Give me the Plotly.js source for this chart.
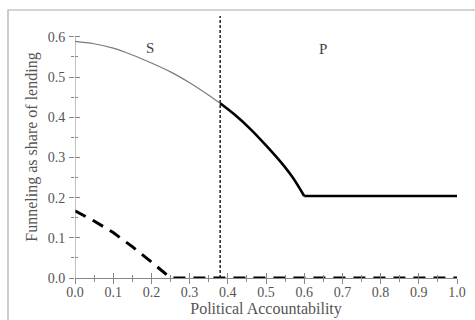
<!DOCTYPE html>
<html><head><meta charset="utf-8">
<script src="https://cdn.plot.ly/plotly-3.0.1.min.js"></script>
<style>html,body{margin:0;padding:0;background:#fff}</style>
</head><body>
<div id="chart" style="width:475px;height:320px"></div>
<script>
// Upper curve (S region, thin)
var sX = [0.0, 0.05, 0.1, 0.15, 0.2, 0.25, 0.3, 0.35, 0.38];
var sY = [0.589, 0.583, 0.572, 0.555, 0.535, 0.513, 0.486, 0.455, 0.435];
// Upper curve (P region, thick, falling part)
var pX = [0.38, 0.42, 0.46, 0.50, 0.54, 0.57, 0.6];
var pY = [0.435, 0.405, 0.370, 0.330, 0.287, 0.250, 0.204];
// Upper curve (P region, flat part)
var fX = [0.6, 0.7, 0.8, 0.9, 1.0];
var fY = [0.204, 0.204, 0.204, 0.204, 0.204];
// Lower dashed curve
var dX = [0.0, 0.05, 0.1, 0.15, 0.2, 0.25, 0.4, 0.6, 0.8, 1.0];
var dY = [0.167, 0.142, 0.113, 0.078, 0.040, 0.0, 0.0, 0.0, 0.0, 0.0];
// Threshold
var threshold = 0.38;
var xTicks = [0, 0.1, 0.2, 0.3, 0.4, 0.5, 0.6, 0.7, 0.8, 0.9, 1.0];
var xTickText = ["0.0","0.1","0.2","0.3","0.4","0.5","0.6","0.7","0.8","0.9","1.0"];
var yTicks = [0, 0.1, 0.2, 0.3, 0.4, 0.5, 0.6];
var yTickText = ["0.0","0.1","0.2","0.3","0.4","0.5","0.6"];
var xMinor = [0.05,0.15,0.25,0.35,0.45,0.55,0.65,0.75,0.85,0.95];
var yMinor = [0.05,0.15,0.25,0.35,0.45,0.55];

var font = "Liberation Serif, Times New Roman, serif";
var tc = "#888";

var traces = [
  {x: sX, y: sY, mode: "lines", line: {color: "#7a7a7a", width: 1.2, shape: "spline"}, hoverinfo: "skip"},
  {x: pX, y: pY, mode: "lines", line: {color: "#000", width: 2.6, shape: "spline"}, hoverinfo: "skip"},
  {x: fX, y: fY, mode: "lines", line: {color: "#000", width: 2.6}, hoverinfo: "skip"},
  {x: dX, y: dY, mode: "lines", line: {color: "#000", width: 3, dash: "12px,8px"}, hoverinfo: "skip"},
  {x: [threshold, threshold], y: [0, 0.652], mode: "lines", line: {color: "#222", width: 1.5, dash: "3px,2px"}, hoverinfo: "skip"},
  {x: [0], y: [0], xaxis: "x2", yaxis: "y", mode: "markers", marker: {opacity: 0}, hoverinfo: "skip"},
  {x: [0], y: [0], xaxis: "x", yaxis: "y2", mode: "markers", marker: {opacity: 0}, hoverinfo: "skip"}
];

var common = {showgrid: false, zeroline: false, tickcolor: tc, tickwidth: 1};

var layout = {
  width: 475, height: 320,
  margin: {l: 75, r: 18, t: 16, b: 42},
  paper_bgcolor: "#fff", plot_bgcolor: "#fff",
  showlegend: false,
  font: {family: font, color: "#555", size: 13},
  xaxis: Object.assign({}, common, {
    range: [0, 1], tickmode: "array", tickvals: xTicks, ticktext: xTickText,
    ticks: "outside", ticklen: 5, showline: true, linecolor: tc, linewidth: 1,
    ticklabelstandoff: -4,
    tickfont: {family: font, size: 14, color: "#555"},
    minor: {tickmode: "array", tickvals: xMinor, ticks: "outside", ticklen: 3, tickcolor: tc},
    title: {text: "Political Accountability", font: {family: font, size: 16, color: "#555"}, standoff: 2}
  }),
  xaxis2: Object.assign({}, common, {
    overlaying: "x", anchor: "y", side: "bottom", range: [0, 1], tickmode: "array", tickvals: xTicks,
    ticks: "inside", ticklen: 5, showticklabels: false, showline: false,
    minor: {tickmode: "array", tickvals: xMinor, ticks: "inside", ticklen: 3, tickcolor: tc}
  }),
  yaxis: Object.assign({}, common, {
    range: [0, 0.652], tickmode: "array", tickvals: yTicks, ticktext: yTickText,
    ticks: "outside", ticklen: 5, showline: false, ticklabelstandoff: 1,
    tickfont: {family: font, size: 14, color: "#555"},
    minor: {tickmode: "array", tickvals: yMinor, ticks: "outside", ticklen: 3, tickcolor: tc},
    title: {text: "Funneling as share of lending", font: {family: font, size: 16, color: "#555"}, standoff: 6}
  }),
  yaxis2: Object.assign({}, common, {
    overlaying: "y", anchor: "x", side: "left", range: [0, 0.652], tickmode: "array", tickvals: yTicks,
    ticks: "inside", ticklen: 5, showticklabels: false, showline: false,
    minor: {tickmode: "array", tickvals: yMinor, ticks: "inside", ticklen: 3, tickcolor: tc}
  }),
  shapes: [
    {type: "line", xref: "x", yref: "y", x0: 0, x1: 0, y0: 0, y1: 0.6, line: {color: tc, width: 1}},
    {type: "rect", xref: "paper", yref: "paper", x0: -0.1754, x1: 1.2, y0: -0.3, y1: 1.0229,
     line: {color: "#aaa", width: 1.2}, fillcolor: "rgba(0,0,0,0)", layer: "below"}
  ],
  annotations: [
    {x: 0.196, y: 0.573, xref: "x", yref: "y", text: "S", showarrow: false, font: {family: font, size: 15, color: "#444"}},
    {x: 0.65, y: 0.571, xref: "x", yref: "y", text: "P", showarrow: false, font: {family: font, size: 15, color: "#444"}}
  ]
};

Plotly.newPlot("chart", traces, layout, {displayModeBar: false, staticPlot: true});
</script>
</body></html>
